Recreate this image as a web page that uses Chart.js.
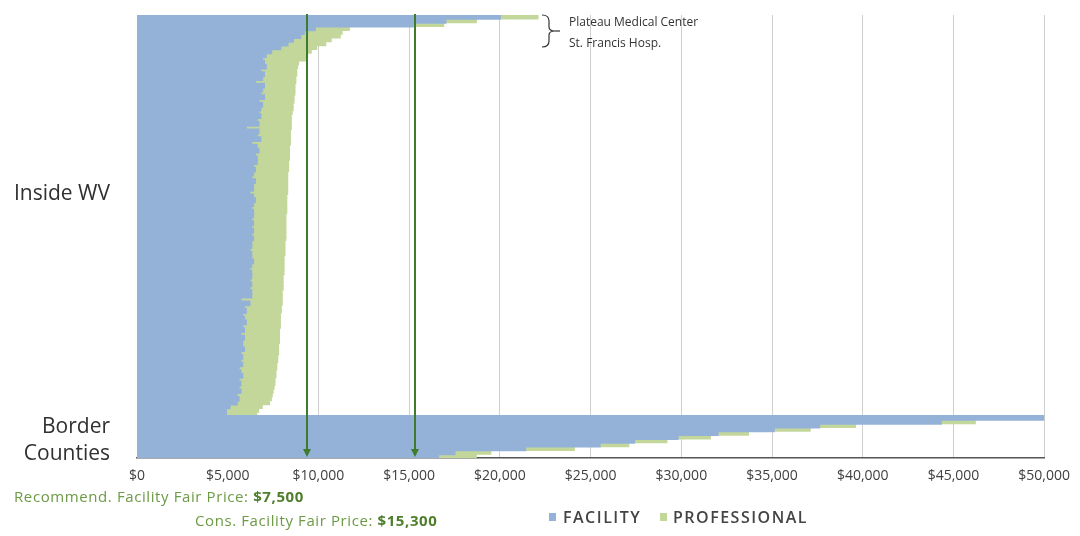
<!DOCTYPE html>
<html>
<head>
<meta charset="utf-8">
<script src="https://cdn.jsdelivr.net/npm/chart.js@4.4.1/dist/chart.umd.min.js"></script>
<style>
  html, body { margin: 0; padding: 0; background: #fff; }
  #wrap { position: relative; width: 1080px; height: 536px; }
</style>
</head>
<body>
<div id="wrap"><canvas id="price-chart"></canvas></div>
<script>
Chart.defaults.font.family = "'Open Sans', sans-serif";

// facility + professional price per hospital, inside WV (top to bottom)
const insideFacility = [
    20000, 17000, 15200, 9800, 9200, 9000, 8600, 8300, 7900, 7400, 7100, 6900,
    7000, 7100, 6800, 7000, 6900, 6500, 7000, 6900, 6800, 7000, 6700, 6900, 6800,
    6700, 6800, 6600, 6700, 6000, 6700, 6600, 6800, 6300, 6600, 6700, 6500, 6600, 6600,
    6400, 6500, 6400, 6300, 6500, 6400, 6400, 6200, 6400, 6500, 6400, 6300, 6400, 6400, 6300, 6400, 6300, 6400,
    6300, 6400, 6300, 6300, 6200, 6300, 6300, 6400, 6300, 6200, 6300, 6300, 6200, 6300, 6200, 6300, 6300, 5700, 6200,
    5900, 6000, 5800, 5900, 6000, 5800, 5900, 5700, 5900, 5800, 5800, 5900, 5700,
    5800, 5700, 5800, 5600, 5700, 5800, 5600, 5700, 5600, 5700, 5500, 5600, 5500,
    5100, 4900, 4900
];
const insideProfessional = [
    2100, 1700, 1700, 1900, 2100, 2200, 2100, 2100, 2000, 2200, 2300, 2400,
    1900, 1750, 2000, 1800, 1850, 2250, 1700, 1800, 1900, 1650, 1950, 1700, 1800,
    1850, 1700, 1900, 1800, 2500, 1750, 1850, 1650, 2150, 1800, 1700, 1900, 1800, 1750,
    1950, 1850, 1900, 2000, 1800, 1900, 1900, 2100, 1850, 1750, 1850, 1950, 1850, 1800, 1900, 1800, 1900, 1800,
    1900, 1800, 1850, 1850, 1950, 1850, 1800, 1700, 1800, 1900, 1800, 1750, 1850, 1750, 1850, 1700, 1700, 2300, 1800,
    2050, 1950, 2100, 2000, 1900, 2100, 1950, 2150, 1950, 2050, 2000, 1900, 2100,
    1950, 2050, 1900, 2100, 1950, 1850, 2000, 1900, 1950, 1800, 1950, 1800, 1800,
    1800, 1800, 1700
];

// border counties (top to bottom)
const borderFacility = [50000, 44300, 37600, 35100, 32000, 29800, 27400, 25500, 21400, 17500, 16600];
const borderProfessional = [0, 1900, 2000, 2000, 1700, 1800, 1800, 1600, 2700, 2000, 2100];

const tickValues = [0, 5000, 10000, 15000, 20000, 25000, 30000, 35000, 40000, 45000, 50000];
const fairPrices = [9350, 15300];
const topHospitals = ["Plateau Medical Center", "St. Francis Hosp."];

const facilityData = insideFacility.concat(borderFacility);
const professionalData = insideProfessional.concat(borderProfessional);
const labels = facilityData.map((v, i) => {
    if (i < topHospitals.length) return topHospitals[i];
    return i < insideFacility.length ? "Inside WV #" + (i + 1) : "Border #" + (i - insideFacility.length + 1);
});

const BLUE = "#94b2d8";
const GREEN = "#c4d79b";
const ARROW = "#3e7b2d";

const decor = {
    id: "decor",
    afterDatasetsDraw(chart) {
        const ctx = chart.ctx;
        const area = chart.chartArea;
        const x = chart.scales.x;
        ctx.save();
        ctx.strokeStyle = ARROW;
        ctx.fillStyle = ARROW;
        ctx.lineWidth = 2;
        fairPrices.forEach((v) => {
            const px = Math.round(x.getPixelForValue(v));
            ctx.beginPath();
            ctx.moveTo(px, area.top - 1);
            ctx.lineTo(px, area.bottom - 7);
            ctx.stroke();
            ctx.beginPath();
            ctx.moveTo(px - 4, area.bottom - 9);
            ctx.lineTo(px + 4, area.bottom - 9);
            ctx.lineTo(px, area.bottom - 1);
            ctx.closePath();
            ctx.fill();
        });
        ctx.restore();
    },
    afterDraw(chart) {
        const ctx = chart.ctx;
        const y = chart.scales.y;
        ctx.save();

        // group labels on the left
        ctx.fillStyle = "#303030";
        ctx.font = "21px 'Open Sans'";
        ctx.textAlign = "right";
        ctx.textBaseline = "middle";
        ctx.fillText("Inside WV", 110, y.getPixelForValue(46.5));
        ctx.fillText("Border", 110, y.getPixelForValue(107.3));
        ctx.fillText("Counties", 110, y.getPixelForValue(114.5));

        // bracket for the two outliers
        ctx.strokeStyle = "#333";
        ctx.lineWidth = 1.2;
        ctx.beginPath();
        ctx.moveTo(542, 15);
        ctx.quadraticCurveTo(549, 15, 549, 21);
        ctx.lineTo(549, 27);
        ctx.quadraticCurveTo(549, 31, 555, 31);
        ctx.quadraticCurveTo(549, 31, 549, 35);
        ctx.lineTo(549, 41);
        ctx.quadraticCurveTo(549, 47, 542, 47);
        ctx.stroke();
        ctx.beginPath();
        ctx.moveTo(555, 31);
        ctx.lineTo(560, 31);
        ctx.stroke();
        ctx.fillStyle = "#333";
        ctx.font = "12px 'Open Sans'";
        ctx.textAlign = "left";
        ctx.fillText(topHospitals[0], 569, 23);
        ctx.fillText(topHospitals[1], 569, 44);

        // fair price notes
        ctx.letterSpacing = "0.6px";
        const note = (txt, val, x0, y0) => {
            ctx.font = "15px 'Open Sans'";
            ctx.fillStyle = "#6c9a45";
            ctx.fillText(txt, x0, y0);
            const w = ctx.measureText(txt).width;
            ctx.font = "bold 15px 'Open Sans'";
            ctx.fillStyle = "#4f7f2c";
            ctx.fillText(val, x0 + w, y0);
        };
        note("Recommend. Facility Fair Price: ", "$7,500", 14, 498);
        note("Cons. Facility Fair Price: ", "$15,300", 195, 522);

        // legend
        ctx.font = "600 16px 'Open Sans'";
        ctx.letterSpacing = "1.5px";
        ctx.fillStyle = BLUE;
        ctx.fillRect(549, 513, 7, 8);
        ctx.fillStyle = "#444";
        ctx.fillText("FACILITY", 563, 518);
        ctx.fillStyle = GREEN;
        ctx.fillRect(660, 513, 7, 8);
        ctx.fillStyle = "#444";
        ctx.fillText("PROFESSIONAL", 673, 518);
        ctx.restore();
    }
};

const chart = new Chart(document.getElementById("price-chart"), {
    type: "bar",
    data: {
        labels: labels,
        datasets: [{
            label: "Facility",
            data: facilityData,
            backgroundColor: BLUE,
            borderWidth: 0,
            inflateAmount: 1,
            barPercentage: 1,
            categoryPercentage: 1
        }, {
            label: "Professional",
            data: professionalData,
            backgroundColor: GREEN,
            borderWidth: 0,
            inflateAmount: 0.6,
            barPercentage: 1,
            categoryPercentage: 1
        }]
    },
    options: {
        indexAxis: "y",
        responsive: true,
        maintainAspectRatio: false,
        animation: false,
        layout: {
            padding: { left: 137, right: 33, top: 15, bottom: 0 }
        },
        plugins: {
            legend: { display: false },
            tooltip: { enabled: false }
        },
        scales: {
            x: {
                stacked: true,
                min: 0,
                max: 50000,
                afterBuildTicks: (scale) => {
                    scale.ticks = tickValues.map((v) => ({ value: v }));
                },
                afterFit: (scale) => {
                    scale.height = 78;
                },
                ticks: {
                    padding: 10,
                    color: "#404040",
                    font: { size: 14 },
                    callback: (v) => "$" + Number(v).toLocaleString("en-US")
                },
                grid: {
                    color: "#cfcfcf",
                    drawTicks: false
                },
                border: {
                    color: "#555",
                    width: 1.5
                }
            },
            y: {
                stacked: true,
                display: false
            }
        }
    },
    plugins: [decor]
});
</script>
</body>
</html>
